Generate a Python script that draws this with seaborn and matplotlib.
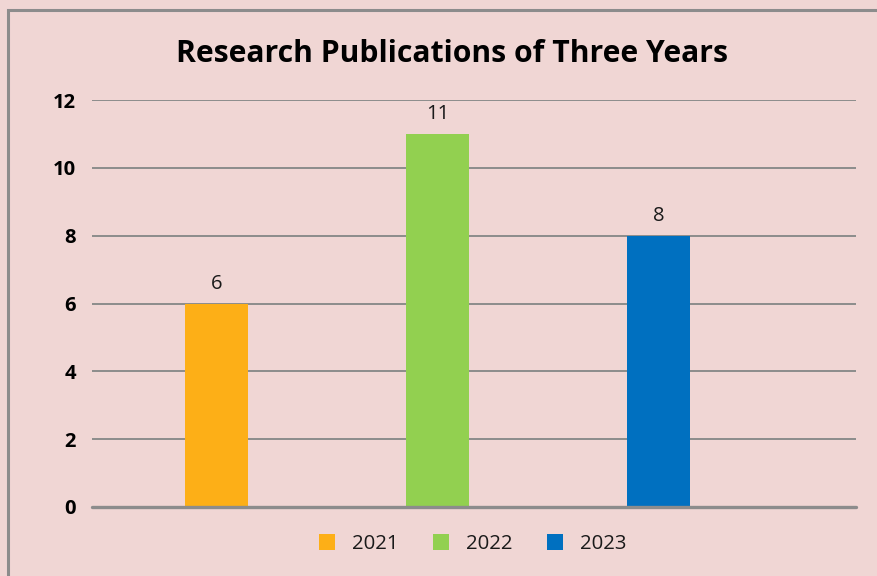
import matplotlib
matplotlib.use("Agg")
import matplotlib.pyplot as plt
import seaborn as sns
import pandas as pd
from matplotlib.patches import Rectangle, Patch

years = ["2021", "2022", "2023"]
publications = [6, 11, 8]
colors = ["#FDAF17", "#92D050", "#0070C0"]
yticks = [0, 2, 4, 6, 8, 10, 12]
title = "Research Publications of Three Years"

sns.set_theme(style="white")
plt.rcParams["font.family"] = ["Open Sans", "DejaVu Sans"]

bg = "#F0D6D4"
df = pd.DataFrame({"Year": years, "Publications": publications})

fig = plt.figure(figsize=(8.78, 5.76), dpi=100, facecolor=bg)
ax = fig.add_axes([92/878, 1-507/576, (856-92)/878, (507-100)/576])
ax.set_facecolor(bg)

sns.barplot(data=df, x="Year", y="Publications", hue="Year", palette=colors,
            width=0.285, dodge=False, legend=False, ax=ax, saturation=1,
            linewidth=0, edgecolor="none")

for c in ax.containers:
    ax.bar_label(c, padding=7, fontsize=14.5, color="#1a1a1a")

ax.set_ylim(0, 12)
ax.set_xlim(-0.563, 2.894)
ax.set_yticks(yticks)
ax.set_yticklabels([str(t) for t in yticks], fontsize=14.5, fontweight="bold", color="black")
ax.set_xticks([])
ax.set_xlabel("")
ax.set_ylabel("")
ax.tick_params(axis="y", length=0, pad=11.5)
ax.yaxis.grid(True, color="#8C8C8C", linewidth=1.4)
ax.set_axisbelow(True)
for s in ax.spines.values():
    s.set_visible(False)
ax.axhline(0, color="#8C8C8C", linewidth=2.4, zorder=3, clip_on=False)

fig.text(452/878, 1-54/576, title, ha="center", va="center",
         fontsize=21.7, fontweight="bold", color="black")

handles = [Patch(facecolor=c, edgecolor="none") for c in colors]
leg = fig.legend(handles, years, loc="center", bbox_to_anchor=(472.5/878, 1-544/576),
                 ncol=3, frameon=False, fontsize=14.7, handlelength=0.78, handleheight=0.78,
                 handletextpad=0.83, columnspacing=1.7)
for t in leg.get_texts():
    t.set_color("#1a1a1a")

fig.patches.append(Rectangle((8/878, -0.1), 1.2, 1-10/576+0.1, transform=fig.transFigure,
                             fill=False, edgecolor="#8C8C8C", linewidth=2.2))

fig.savefig("out.png", dpi=100, facecolor=bg)
